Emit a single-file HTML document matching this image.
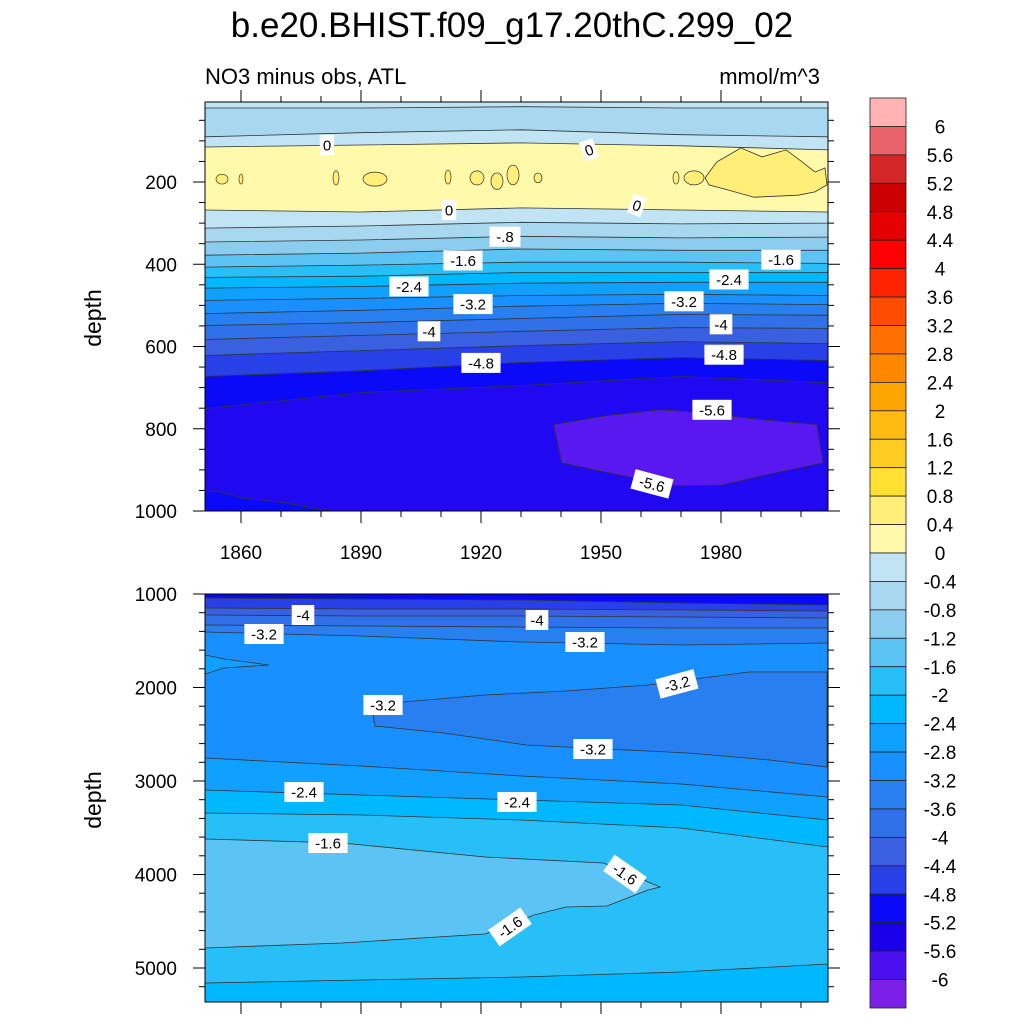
<!DOCTYPE html>
<html><head><meta charset="utf-8"><style>
html,body{margin:0;padding:0;background:#fff}
svg text{font-family:"Liberation Sans",sans-serif}
</style></head><body>
<svg id="chart" width="1024" height="1024" viewBox="0 0 1024 1024" xmlns="http://www.w3.org/2000/svg">
<defs>
<clipPath id="clipTop"><rect x="205" y="102" width="623" height="409"/></clipPath>
<clipPath id="clipBot"><rect x="205" y="594" width="623" height="408"/></clipPath>
</defs>
<text x="512" y="37" font-size="35" text-anchor="middle">b.e20.BHIST.f09_g17.20thC.299_02</text>
<text x="205" y="84" font-size="22">NO3 minus obs, ATL</text>
<text x="820" y="84" font-size="22" text-anchor="end">mmol/m^3</text>
<text transform="translate(101,318) rotate(-90)" font-size="23" text-anchor="middle">depth</text>
<text transform="translate(101,800) rotate(-90)" font-size="23" text-anchor="middle">depth</text>
<g id="topPanel"></g>
<g id="botPanel"></g>
<g id="colorbar"></g>
</svg>
<script>
// ---------- data ----------
const lineYears = [1851, 1890, 1930, 1970, 2006.75];
// top panel contour boundaries (depth, m)
const topLines = [
  [20,20,17,20,20],
  [90,80,73,85,90],
  [115,110,105,112,122],
  [268,273,263,268,273],
  [312,307,298,302,300],
  [346,341,332,336,334],
  [378,373,363,366,366],
  [407,402,395,395,398],
  [432,429,420,420,420],
  [458,454,446,444,444],
  [488,483,476,473,476],
  [520,512,502,495,498],
  [549,542,532,522,524],
  [583,573,563,554,556],
  [622,610,598,588,593],
  [673,659,639,627,634],
  [751,712,695,673,688]
];
const topBandColors = ["#C0E4F4","#A8D8F0","#C0E4F4","#FFF9AA","#C0E4F4","#A8D8F0","#8CCCEE","#5CC4F4","#28BEF8","#00B8FF","#10A0FF","#1890FF","#2880F0","#3070E8","#3860E0","#2840E8","#0A0AF8","#2008F0"];
const purpleBlob = [[1938.2,790],[1951.5,768],[1964.8,754],[1976,761],[1988,776],[2004,790],[2005.5,883],[1992.2,910],[1980,937],[1967.8,939],[1953.5,910],[1940.2,883]];
const bottomLeftPatch = [[1851,954],[1853.75,951],[1860,968],[1871,980],[1883.25,1002],[1851,1002]];
const yellowBlob = [[1976,190],[1979,151],[1982,134],[1985,117],[1990.25,139],[1996.25,122],[2000.25,151],[2003.5,176],[2006,166],[2006.5,207],[2003.5,224],[1999.25,232],[1988.25,237],[1982,220],[1977,207]];
const smallBlobs = [[1855.25,193,1.5,12],[1860,193,0.5,12],[1883.75,190,0.75,17],[1893.5,193,3,17],[1911.75,188,0.75,17],[1919,190,1.75,17],[1924,198,1.5,20],[1928,183,1.5,24],[1934.25,190,1,12],[1968.75,190,0.75,15],[1973.25,190,2.5,17]];
// bottom panel contour boundaries
const botLines = [
  [1043,1053,1064,1096,1118],
  [1150,1160,1160,1171,1182],
  [1225,1235,1235,1246,1257],
  [1332,1342,1353,1364,1364],
  [1406,1449,1513,1545,1524],
  [2754,2840,2946,3032,3171],
  [3096,3150,3203,3257,3417],
  [3342,3364,3417,3503,3706],
  [5160,5128,5096,5043,4957]
];
const botBandColors = ["#0A0AF8","#2840E8","#3860E0","#3070E8","#2880F0","#1890FF","#10A0FF","#00B8FF","#28BEF8","#00B8FF"];
const tongue32 = [[1893,2294],[1900.6,2155],[1921,2080],[1941.25,2037],[1961.75,1973],[1987,1834],[2006.5,1834],[2006.5,2850],[1992.25,2775],[1971.75,2700],[1951.5,2658],[1931.25,2615],[1910.75,2487],[1893.5,2412]];
const leftTongue = [[1851,1652],[1855.75,1695],[1867,1759],[1855.75,1791],[1851,1856]];
const tongue16 = [[1851,3620],[1885.25,3663],[1921,3813],[1950.5,3877],[1955.5,3952],[1961.75,4080],[1964.75,4134],[1961.75,4166],[1951.5,4337],[1941.25,4348],[1933.25,4433],[1921,4636],[1885.25,4733],[1851,4786]];
const topLabels = [["0",1881.5,110,0],["0",1947,122,-20],["0",1912,268,0],["0",1959,257,20],["-.8",1926,333,0],["-1.6",1915.5,391,0],["-1.6",1995,389,0],["-2.4",1902,454,0],["-2.4",1982,437,0],["-3.2",1918,497,0],["-3.2",1970.75,490,0],["-4",1907,563,0],["-4",1980,546,0],["-4.8",1920,640,0],["-4.8",1980.75,620,0],["-5.6",1977.75,754,0],["-5.6",1962.75,934,15]];
const botLabels = [["-4",1875.5,1225,0],["-4",1934,1278,0],["-3.2",1865.75,1428,0],["-3.2",1946,1513,0],["-3.2",1969,1962,-15],["-3.2",1895.5,2187,0],["-3.2",1948,2658,0],["-2.4",1875.75,3118,0],["-2.4",1929,3225,0],["-1.6",1881.75,3663,0],["-1.6",1956,3995,35],["-1.6",1927.25,4560,-35]];
const yTicksTop = [200,400,600,800,1000];
const yTicksBot = [1000,2000,3000,4000,5000];
const xTicks = [1860,1890,1920,1950,1980];
const cbLabels = ["6","5.6","5.2","4.8","4.4","4","3.6","3.2","2.8","2.4","2","1.6","1.2","0.8","0.4","0","-0.4","-0.8","-1.2","-1.6","-2","-2.4","-2.8","-3.2","-3.6","-4","-4.4","-4.8","-5.2","-5.6","-6"];
const cbColors = ["#FFB3B3","#E8646A","#D42828","#CC0000","#E50000","#FF0000","#FF2200","#FF4D00","#FF7000","#FF8800","#FFA500","#FFBB11","#FFCC22","#FFE033","#FFEE77","#FFF9AA","#C0E4F4","#A8D8F0","#8CCCEE","#5CC4F4","#28BEF8","#00B8FF","#10A0FF","#1890FF","#2880F0","#3070E8","#3860E0","#2840E8","#0A0AF8","#1A00E8","#4C10F0","#7C20E8"];

// ---------- axes ----------
const NS="http://www.w3.org/2000/svg";
const X0=205,X1=828,YR0=1851,YR1=2006.75;
function sx(yr){return X0+(yr-YR0)*(X1-X0)/(YR1-YR0);}
function syT(d){return 99.75+d*0.41125;}
function syB(d){return 594+(d-1000)*0.0935;}
function mk(tag,attrs,parent){const e=document.createElementNS(NS,tag);for(const k in attrs)e.setAttribute(k,attrs[k]);parent.appendChild(e);return e;}
function linePts(arr,sy){return arr.map((d,i)=>sx(lineYears[i]).toFixed(1)+","+sy(d).toFixed(1));}
function shapePts(arr,sy){return arr.map(p=>sx(p[0]).toFixed(1)+","+sy(p[1]).toFixed(1)).join(" ");}

function drawPanel(g,clip,lines,colors,sy,top,bot){
  const cg=mk("g",{"clip-path":"url(#"+clip+")"},g);
  const bg=mk("rect",{x:X0,y:top,width:X1-X0,height:bot-top,fill:colors[0]},cg);
  
  
  lines.forEach((ln,i)=>{
    const pts=linePts(ln,sy);
    const poly=mk("polygon",{points:pts.join(" ")+" "+X1+","+(bot+5)+" "+X0+","+(bot+5),fill:colors[i+1]},cg);
    
    
  });
  return cg;
}
function drawLines(cg,lines,sy){
  lines.forEach(ln=>{
    const pl=mk("polyline",{points:linePts(ln,sy).join(" "),fill:"none",stroke:"#333",
      "stroke-width":"0.8"},cg);
    
    
  });
}
function shape(cg,arr,sy,fill,name){
  const p=mk("polygon",{points:shapePts(arr,sy),fill:fill,stroke:"#333","stroke-width":"0.8"},cg);
  
  
}
function labels(cg,arr,sy){
  arr.forEach(l=>{
    const x=sx(l[1]),y=sy(l[2]);
    const w=l[0].length*8.3+6;
    const g=mk("g",{transform:"translate("+x.toFixed(1)+","+y.toFixed(1)+") rotate("+l[3]+")"},cg);
    
    
    mk("rect",{x:-w/2,y:-10,width:w,height:20,fill:"#fff"},g);
    const t=mk("text",{x:0,y:5.5,"font-size":"15","text-anchor":"middle",fill:"#000"},g);
    t.textContent=l[0];
  });
}
function frame(g,top,bot,yt,sy,minorStep,dmin,dmax,topTicks,xLabels){
  const ax=mk("g",{},g);
  
  
  mk("rect",{x:X0,y:top,width:X1-X0,height:bot-top,fill:"none",stroke:"#000","stroke-width":"1"},ax);
  for(let d=Math.ceil(dmin/minorStep)*minorStep;d<=dmax;d+=minorStep){
    const y=sy(d);if(y<top-0.5||y>bot+0.5)continue;
    const major=yt.indexOf(d)>=0, L=major?12:6;
    mk("line",{x1:X0-L,y1:y,x2:X0,y2:y,stroke:"#000"},ax);
    mk("line",{x1:X1,y1:y,x2:X1+L,y2:y,stroke:"#000"},ax);
  }
  yt.forEach(d=>{
    const t=mk("text",{x:177,y:sy(d)+7,"font-size":"19","text-anchor":"end"},ax);
    
    
    t.textContent=d;
  });
  for(let yr=1860;yr<=2000;yr+=10){
    const x=sx(yr),major=xTicks.indexOf(yr)>=0,L=major?12:6;
    if(topTicks)mk("line",{x1:x,y1:top-L,x2:x,y2:top,stroke:"#000"},ax);
    mk("line",{x1:x,y1:bot,x2:x,y2:bot+L,stroke:"#000"},ax);
  }
  if(xLabels)xTicks.forEach(yr=>{
    const t=mk("text",{x:sx(yr),y:bot+48,"font-size":"19","text-anchor":"middle"},ax);
    
    
    t.textContent=yr;
  });
}

// top panel
const gT=document.getElementById("topPanel");
const cT=drawPanel(gT,"clipTop",topLines,topBandColors,syT,102,511);
shape(cT,yellowBlob,syT,"#FFEE77","yellow-blob");
smallBlobs.forEach(b=>{
  const e=mk("ellipse",{cx:sx(b[0]),cy:syT(b[1]),rx:Math.max(1,b[2]*4),ry:b[3]*0.41125,fill:"#FFEE77",stroke:"#333","stroke-width":"0.7"},cT);
  
  
});
shape(cT,bottomLeftPatch,syT,"#0A0AF8","bottom-left-patch");
shape(cT,purpleBlob,syT,"#5A18F0","purple-blob");
drawLines(cT,topLines,syT);
labels(cT,topLabels,syT);
frame(gT,102,511,yTicksTop,syT,50,0,1000,true,true);

// bottom panel
const gB=document.getElementById("botPanel");
const cB=drawPanel(gB,"clipBot",botLines,botBandColors,syB,594,1002);
shape(cB,leftTongue,syB,"#10A0FF","left-tongue");
shape(cB,tongue32,syB,"#2880F0","tongue-minus-3-2");
shape(cB,tongue16,syB,"#5CC4F4","tongue-minus-1-6");
drawLines(cB,botLines,syB);
labels(cB,botLabels,syB);
frame(gB,594,1002,yTicksBot,syB,200,1000,5400,false,false);

// colorbar
const cb=document.getElementById("colorbar");
const cbTop=98,cbBot=1008,bh=(cbBot-cbTop)/cbColors.length;
cbColors.forEach((c,i)=>{
  const r=mk("rect",{x:870,y:cbTop+i*bh,width:36,height:bh,fill:c,stroke:"#222","stroke-width":"0.8"},cb);
  
  
});
cbLabels.forEach((s,i)=>{
  const t=mk("text",{x:940,y:cbTop+(i+1)*bh+7,"font-size":"19","text-anchor":"middle"},cb);
  
  
  t.textContent=s;
});
</script>
</body></html>
